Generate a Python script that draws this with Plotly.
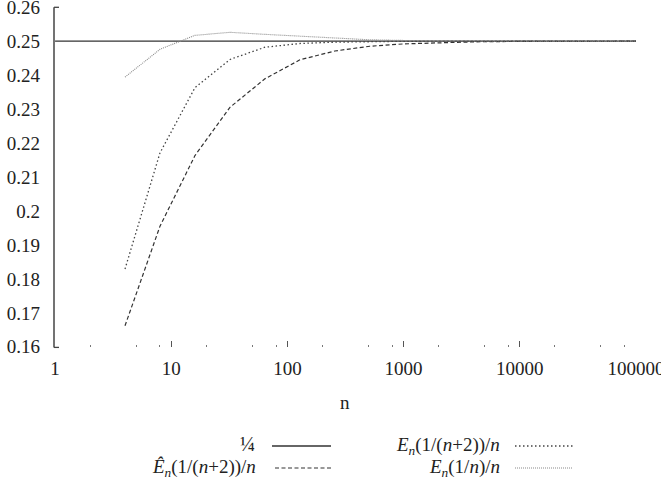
import plotly.graph_objects as go

# ---- data ----
n_vals = [4, 8, 16, 32, 64, 128, 256, 512, 1024, 2048, 4096, 8192, 16384, 32768, 65536, 131072]
e_hat_n2 = [0.1662, 0.1955, 0.2163, 0.2305, 0.2389, 0.2445, 0.2471, 0.2485, 0.2492, 0.2496,
            0.2498, 0.2499, 0.24995, 0.2500, 0.2500, 0.2500]
e_n2 = [0.1829, 0.2171, 0.2363, 0.2446, 0.2482, 0.2493, 0.2497, 0.2499, 0.24995, 0.2500,
        0.2500, 0.2500, 0.2500, 0.2500, 0.2500, 0.2500]
e_n1 = [0.2394, 0.2476, 0.2517, 0.2526, 0.2520, 0.2514, 0.2508, 0.2504, 0.2502, 0.2501,
        0.25005, 0.2500, 0.2500, 0.2500, 0.2500, 0.2500]
quarter_x = [1, 100000]
quarter_y = [0.25, 0.25]

x_major = [1, 10, 100, 1000, 10000, 100000]
x_major_text = ["1", "10", "100", "1000", "10000", "100000"]
x_minor = [m * 10 ** k for k in range(5) for m in (2, 5, 8)]
y_ticks = [0.16, 0.17, 0.18, 0.19, 0.20, 0.21, 0.22, 0.23, 0.24, 0.25, 0.26]
y_ticks_text = ["0.16", "0.17", "0.18", "0.19", "0.2", "0.21", "0.22", "0.23", "0.24", "0.25", "0.26"]

FONT = "Liberation Serif, DejaVu Serif, serif"
W, H = 661, 484
L, R, T, B = 55, 25, 7, 137

styles = {
    "quarter": dict(color="#333333", width=1.3, dash="solid"),
    "ehat": dict(color="#333333", width=1.2, dash="4px,2.5px"),
    "en2": dict(color="#444444", width=1.3, dash="1.5px,2.5px"),
    "en1": dict(color="#8a8a8a", width=1.1, dash="1px,1px"),
}

fig = go.Figure()
fig.add_trace(go.Scatter(x=quarter_x, y=quarter_y, mode="lines", line=styles["quarter"], showlegend=False))
fig.add_trace(go.Scatter(x=n_vals, y=e_hat_n2, mode="lines", line=styles["ehat"], showlegend=False))
fig.add_trace(go.Scatter(x=n_vals, y=e_n2, mode="lines", line=styles["en2"], showlegend=False))
fig.add_trace(go.Scatter(x=n_vals, y=e_n1, mode="lines", line=styles["en1"], showlegend=False))

pw, ph = W - L - R, H - T - B


def px(xp):
    return (xp - L) / pw


def py(yp):
    return (H - B - yp) / ph


shapes = []
# y axis bracket
shapes.append(dict(type="line", xref="paper", yref="paper", x0=px(54), x1=px(54), y0=py(7.3), y1=py(347.4),
                   line=dict(color="#444", width=1.5)))
shapes.append(dict(type="line", xref="paper", yref="paper", x0=px(54), x1=px(59), y0=py(7.3), y1=py(7.3),
                   line=dict(color="#444", width=1.3)))
shapes.append(dict(type="line", xref="paper", yref="paper", x0=px(54), x1=px(59), y0=py(347.4), y1=py(347.4),
                   line=dict(color="#444", width=1.3)))

annotations = []
legend_items = [
    ("quarter", "¼", 257, 444, 272, 331),
    ("ehat", "<i>Ê</i><sub><i>n</i></sub>(1/(<i>n</i>+2))/<i>n</i>", 258, 468, 275, 331),
    ("en2", "<i>E</i><sub><i>n</i></sub>(1/(<i>n</i>+2))/<i>n</i>", 502, 446, 515, 573),
    ("en1", "<i>E</i><sub><i>n</i></sub>(1/<i>n</i>)/<i>n</i>", 502, 468, 515, 573),
]
for key, text, tx, ty, sx0, sx1 in legend_items:
    annotations.append(dict(text=text, xref="paper", yref="paper", x=px(tx), y=py(ty), xanchor="right",
                            yanchor="middle", showarrow=False,
                            font=dict(family=FONT, size=19 if key != "quarter" else 20, color="#222")))
    st = styles[key]
    ly = 446 if ty < 457 else 468
    shapes.append(dict(type="line", xref="paper", yref="paper", x0=px(sx0), x1=px(sx1), y0=py(ly), y1=py(ly),
                       line=dict(color=st["color"], width=st["width"], dash=st["dash"])))

annotations.append(dict(text="n", xref="paper", yref="paper", x=px(345), y=py(402), xanchor="center",
                        yanchor="middle", showarrow=False, font=dict(family=FONT, size=19, color="#222")))

fig.update_layout(
    width=W, height=H,
    margin=dict(l=L, r=R, t=T, b=B, pad=0, autoexpand=False),
    paper_bgcolor="white", plot_bgcolor="white",
    font=dict(family=FONT, size=19, color="#222"),
    xaxis=dict(type="log", range=[-0.0005, 5.0005], showgrid=False, zeroline=False, showline=False,
               automargin=False, ticklabeloverflow="allow",
               tickmode="array", tickvals=x_major, ticktext=x_major_text,
               ticks="inside", ticklen=6, tickwidth=1.2, tickcolor="#555",
               ticklabelstandoff=8, tickfont=dict(family=FONT, size=19, color="#222"),
               minor=dict(tickmode="array", tickvals=x_minor, ticks="inside", ticklen=2,
                          tickwidth=1.2, tickcolor="#777", showgrid=False)),
    yaxis=dict(range=[0.15995, 0.26005], showgrid=False, zeroline=False, showline=False,
               automargin=False, ticklabeloverflow="allow",
               tickmode="array", tickvals=y_ticks, ticktext=y_ticks_text, ticks="",
               ticklabelstandoff=14, tickfont=dict(family=FONT, size=19, color="#222")),
    shapes=shapes,
    annotations=annotations,
)

fig.write_html("out.html")
